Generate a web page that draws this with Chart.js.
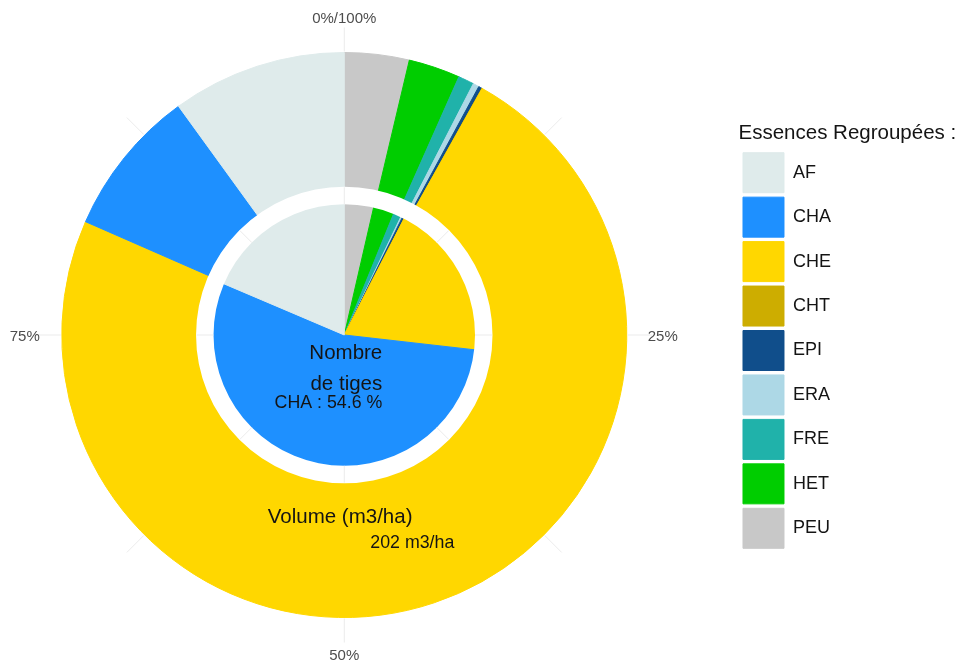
<!DOCTYPE html>
<html>
<head>
<meta charset="utf-8">
<script src="https://cdn.jsdelivr.net/npm/chart.js@4"></script>
<style>
  html, body { margin: 0; padding: 0; background: #fff; overflow: hidden; }
  #wrap { position: relative; width: 964px; height: 663px; overflow: hidden; }
  /* canvas is wider than the page so the pie centre lands where the legend allows */
  #chart { position: absolute; left: -50px; top: 0; }
</style>
</head>
<body>
<div id="wrap"><canvas id="chart" width="1014" height="663"></canvas></div>
<script>
// stacking order, clockwise from the top
const essences  = ['PEU', 'HET', 'FRE', 'ERA', 'EPI', 'CHT', 'CHE', 'CHA', 'AF'];
const couleurs  = ['#c8c8c8', '#00cd00', '#20b2aa', '#add8e6', '#104e8b', '#cdad00', '#ffd700', '#1e90ff', '#dfebeb'];
const volumePct = [3.7, 2.95, 0.9, 0.35, 0.2, 0.02, 73.45, 8.45, 9.98];
const tigesPct  = [3.6, 2.55, 0.95, 0.2, 0.25, 0.02, 19.23, 54.6, 18.6];
const angleTicks = ['0%/100%', '25%', '50%', '75%'];
const gridBreaks = [0, 12.5, 25, 37.5, 50, 62.5, 75, 87.5];
const volumeTotal = 202;

const FONT = '"Liberation Sans", Arial, sans-serif';
Chart.defaults.font.family = FONT;

const gap = 17;

function polar(cx, cy, r, pct) {
    const a = -Math.PI / 2 + 2 * Math.PI * pct / 100;
    return [cx + r * Math.cos(a), cy + r * Math.sin(a)];
}

const decor = {
    id: 'decor',
    afterLayout(chart) {
        // let the legend title run past the label column instead of being clipped
        const lg = chart.legend;
        lg.right = chart.width;
        lg.width = lg.right - lg.left;
    },
    afterDatasetsDraw(chart) {
        const ctx = chart.ctx;
        const outer = chart.getDatasetMeta(0).data[0];
        const inner = chart.getDatasetMeta(1).data[0];
        const cx = outer.x, cy = outer.y;
        const rRing = outer.innerRadius;
        const rPie = inner.outerRadius - gap;
        const rOut = outer.outerRadius;

        ctx.save();
        // white gap between pie and ring
        ctx.beginPath();
        ctx.arc(cx, cy, rRing + 0.5, 0, Math.PI * 2);
        ctx.arc(cx, cy, rPie, 0, Math.PI * 2, true);
        ctx.fillStyle = '#ffffff';
        ctx.fill();

        // faint angular grid, only visible where no bar covers it
        ctx.strokeStyle = '#ebebeb';
        ctx.lineWidth = 1;
        gridBreaks.forEach(p => {
            [[rPie, rRing], [rOut + 1, rOut + 25]].forEach(([r1, r2]) => {
                const a = polar(cx, cy, r1, p), b = polar(cx, cy, r2, p);
                ctx.beginPath();
                ctx.moveTo(a[0], a[1]);
                ctx.lineTo(b[0], b[1]);
                ctx.stroke();
            });
        });

        // angle labels
        ctx.fillStyle = '#4d4d4d';
        ctx.font = '15px ' + FONT;
        ctx.textBaseline = 'middle';
        ctx.textAlign = 'center';
        ctx.fillText(angleTicks[0], cx, cy - 316);
        ctx.textAlign = 'left';
        ctx.fillText(angleTicks[1], cx + 303.5, cy + 2);
        ctx.textAlign = 'center';
        ctx.fillText(angleTicks[2], cx, cy + 321);
        ctx.textAlign = 'right';
        ctx.fillText(angleTicks[3], cx - 304.5, cy + 2);

        // centre annotations
        ctx.fillStyle = '#141414';
        ctx.textBaseline = 'alphabetic';
        ctx.textAlign = 'right';
        ctx.font = '20.5px ' + FONT;
        ctx.fillText('Nombre', cx + 38, cy + 24);
        ctx.fillText('de tiges', cx + 38, cy + 55);
        ctx.font = '17.8px ' + FONT;
        ctx.fillText('CHA : ' + tigesPct[essences.indexOf('CHA')] + ' %', cx + 38, cy + 73);
        ctx.textAlign = 'left';
        ctx.font = '20.5px ' + FONT;
        ctx.fillText('Volume (m3/ha)', cx - 76.5, cy + 188);
        ctx.font = '17.8px ' + FONT;
        ctx.fillText(volumeTotal + ' m3/ha', cx + 26, cy + 213);
        ctx.restore();
    }
};

new Chart(document.getElementById('chart'), {
    type: 'doughnut',
    data: {
        labels: essences,
        datasets: [
            {
                label: 'Volume (m3/ha)',
                data: volumePct,
                backgroundColor: couleurs,
                borderColor: couleurs,
                borderWidth: 1,
                weight: 135
            },
            {
                label: 'Nombre de tiges',
                data: tigesPct,
                backgroundColor: couleurs,
                borderColor: couleurs,
                borderWidth: 1,
                weight: 148
            }
        ]
    },
    options: {
        responsive: false,
        animation: false,
        events: [],
        cutout: 0,
        layout: { padding: { left: 0, right: 123, top: 52, bottom: 45 } },
        plugins: {
            tooltip: { enabled: false },
            legend: {
                position: 'right',
                align: 'start',
                reverse: true,
                title: {
                    display: true,
                    position: 'start',
                    text: 'Essences Regroupées :',
                    color: '#141414',
                    font: { size: 20.5 },
                    padding: { top: 70.75, bottom: 0.9 }
                },
                labels: {
                    color: '#141414',
                    font: { size: 18 },
                    boxWidth: 41,
                    boxHeight: 40,
                    padding: 4.45
                }
            }
        }
    },
    plugins: [decor]
});
</script>
</body>
</html>
